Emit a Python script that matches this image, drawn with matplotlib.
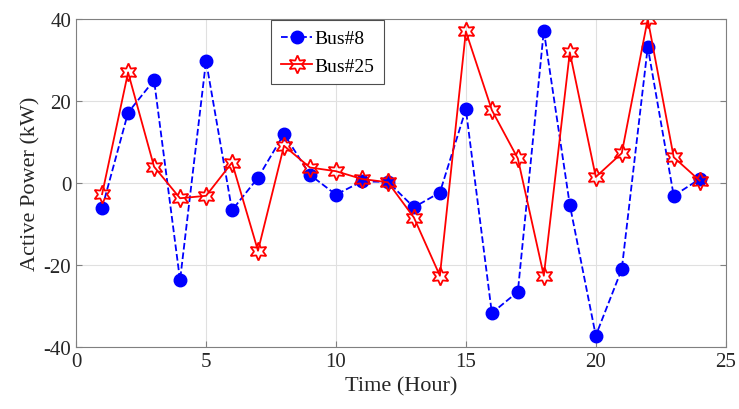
import matplotlib.pyplot as plt
import numpy as np

plt.rcParams['font.family'] = ['Liberation Serif', 'DejaVu Serif']
plt.rcParams['axes.unicode_minus'] = False

# Hours
hours = np.arange(1, 25)

# Active power [kW]
bus8 = [-6.1, 17.2, 25.1, -23.7, 29.8, -6.6, 1.3, 12.0, 2.0, -2.8, 0.4, 0.3,
        -5.9, -2.3, 18.0, -31.7, -26.5, 37.2, -5.3, -37.2, -21.0, 33.2, -3.1, 1.0]
bus25 = [-2.7, 27.0, 4.0, -3.7, -3.1, 5.0, -16.5, 9.1, 3.8, 2.9, 1.0, 0.2,
         -8.4, -22.6, 37.0, 17.8, 6.0, -22.6, 31.9, 1.5, 7.3, 40.0, 6.3, 0.6]

fig = plt.figure(figsize=(7.39, 4.10), dpi=100)
ax = fig.add_axes([0.103, 0.151, 0.879, 0.80])

ax.plot(hours, bus8, '--o', color='blue', lw=1.3, ms=9, mfc='blue', label='Bus#8')
ax.plot(hours, bus25, '-', color='red', lw=1.3, marker=(6, 1, 0), ms=13,
        mfc='none', mec='red', mew=1.3, label='Bus#25')

ax.set_xlim(0, 25)
ax.set_ylim(-40, 40)
ax.set_xticks([0, 5, 10, 15, 20, 25])
ax.set_yticks([-40, -20, 0, 20, 40])
ax.grid(True, color=(0.88, 0.88, 0.88), lw=0.8)
ax.set_axisbelow(True)
ax.tick_params(direction='in', labelsize=15, colors=(0.5, 0.5, 0.5),
               labelcolor=(0.15, 0.15, 0.15), right=True, length=4)
for s in ax.spines.values():
    s.set_color((0.5, 0.5, 0.5))

ax.set_xlabel('Time (Hour)', fontsize=16, color=(0.15, 0.15, 0.15), labelpad=4)
ax.set_ylabel('Active Power (kW)', fontsize=16, color=(0.15, 0.15, 0.15), labelpad=2)

leg = ax.legend(loc='upper left', bbox_to_anchor=(0.299, 1.0), fontsize=14,
                fancybox=False, edgecolor=(0.3, 0.3, 0.3), framealpha=1,
                handlelength=1.6, handletextpad=0.1, borderpad=0.5,
                labelspacing=0.5, borderaxespad=0.05)
leg.get_frame().set_linewidth(0.8)

fig.savefig('out.png', dpi=100)
